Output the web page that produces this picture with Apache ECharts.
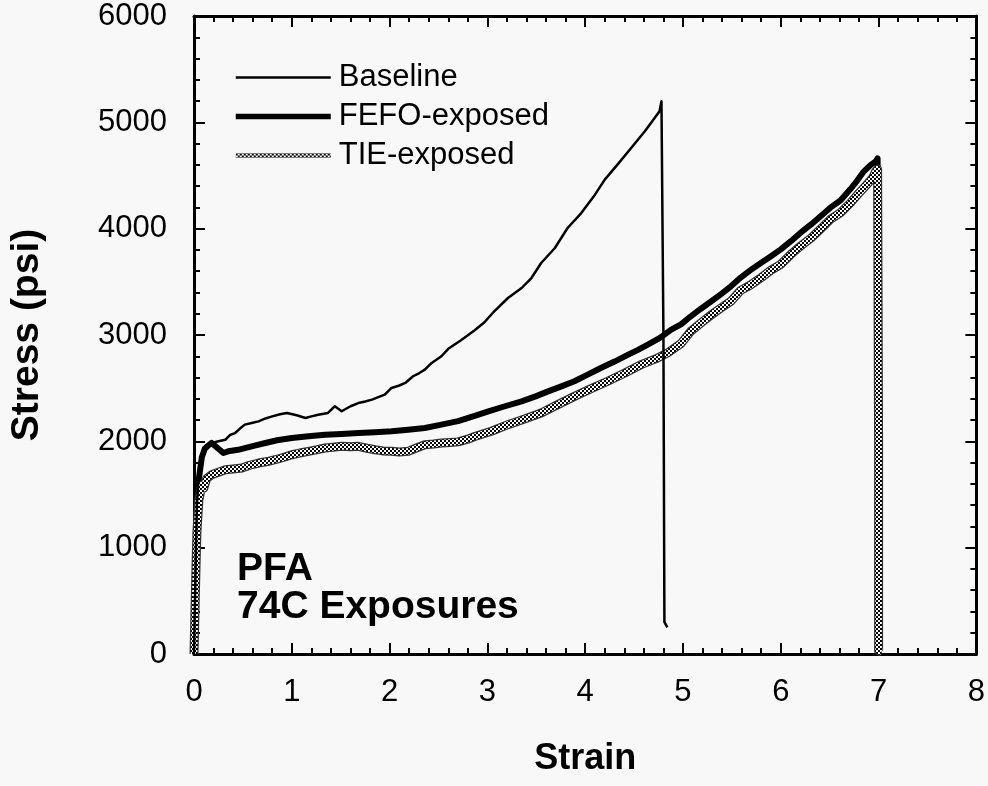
<!DOCTYPE html>
<html>
<head>
<meta charset="utf-8">
<script src="https://cdn.jsdelivr.net/npm/echarts@6/dist/echarts.min.js"></script>
<style>
html,body{margin:0;padding:0;background:#f8f8f8;}
#chart{width:988px;height:786px;}
</style>
</head>
<body>
<div id="chart"></div>
<script>
// ---- data ----
const seriesNames = ['Baseline', 'FEFO-exposed', 'TIE-exposed'];

const baselineStrain = [0,0.01,0.02,0.03,0.05,0.08,0.12,0.18,0.25,0.32,0.37,0.42,0.47,0.52,0.6,0.66,0.73,0.8,0.88,0.95,1.05,1.14,1.2,1.27,1.37,1.44,1.51,1.6,1.68,1.75,1.82,1.95,2.02,2.1,2.16,2.24,2.3,2.36,2.43,2.53,2.6,2.73,2.87,2.97,3.07,3.21,3.35,3.45,3.55,3.69,3.82,3.96,4.1,4.2,4.33,4.47,4.61,4.71,4.76,4.78,4.8,4.81,4.84];
const baselineStress = [0,500,1000,1400,1700,1880,1960,1985,2000,2015,2060,2078,2120,2157,2175,2188,2215,2235,2255,2267,2245,2220,2235,2250,2267,2330,2283,2330,2360,2375,2392,2439,2502,2525,2549,2612,2640,2674,2737,2800,2870,2950,3045,3120,3223,3348,3442,3536,3677,3818,4006,4147,4320,4461,4602,4759,4916,5041,5104,5198,3000,300,250];

const fefoStrain = [0,0.01,0.02,0.03,0.05,0.08,0.11,0.15,0.18,0.25,0.3,0.35,0.45,0.52,0.62,0.73,0.85,1.0,1.17,1.34,1.51,1.68,1.85,2.02,2.19,2.36,2.53,2.7,2.87,3.01,3.18,3.35,3.5,3.62,3.75,3.89,4.02,4.16,4.3,4.44,4.54,4.64,4.76,4.88,4.98,5.08,5.18,5.29,5.39,5.49,5.59,5.69,5.8,5.9,6.0,6.1,6.2,6.31,6.41,6.51,6.61,6.71,6.78,6.85,6.92,6.97,6.99,7.0,7.0];
const fefoStress = [0,400,900,1300,1650,1850,1930,1965,1985,1930,1890,1906,1920,1937,1960,1984,2010,2031,2048,2062,2070,2078,2085,2094,2108,2125,2157,2190,2240,2282,2330,2376,2425,2470,2515,2565,2625,2690,2750,2815,2860,2909,2970,3050,3100,3176,3245,3317,3385,3458,3540,3610,3680,3740,3805,3880,3960,4040,4120,4200,4265,4370,4450,4539,4600,4633,4660,2000,0];

const tieStrain = [0,0.01,0.02,0.03,0.05,0.08,0.1,0.13,0.18,0.25,0.32,0.4,0.49,0.57,0.66,0.75,0.83,0.92,1.0,1.08,1.17,1.25,1.34,1.42,1.51,1.6,1.68,1.77,1.85,1.93,2.02,2.1,2.19,2.28,2.36,2.45,2.53,2.62,2.7,2.8,2.87,3.04,3.21,3.38,3.55,3.72,3.89,4.06,4.23,4.4,4.57,4.72,4.84,4.98,5.08,5.18,5.29,5.39,5.49,5.59,5.69,5.8,5.9,6.0,6.1,6.2,6.31,6.41,6.51,6.61,6.71,6.8,6.88,6.94,6.97,6.99,7.0,7.0,7.03];
const tieStress = [0,400,800,1150,1450,1590,1560,1650,1686,1710,1733,1740,1749,1775,1796,1810,1827,1850,1874,1890,1906,1920,1937,1945,1953,1950,1953,1935,1921,1910,1906,1900,1906,1940,1968,1975,1984,1990,1995,2020,2045,2095,2157,2210,2267,2345,2423,2495,2565,2640,2721,2775,2830,2920,3035,3110,3191,3255,3317,3420,3470,3540,3610,3665,3755,3835,3912,4000,4090,4150,4240,4335,4414,4480,4539,4560,2000,30,20];

const xTickLabels = ['0','1','2','3','4','5','6','7','8'];
const yTickLabels = ['0','1000','2000','3000','4000','5000','6000'];

function zip(a, b) { return a.map((v, i) => [v, b[i]]); }

// checkered hatch used for the TIE curve
const hatch = document.createElement('canvas');
hatch.width = 4; hatch.height = 4;
(function () {
  const c = hatch.getContext('2d');
  c.fillStyle = '#ffffff'; c.fillRect(0, 0, 4, 4);
  c.fillStyle = '#000000';
  c.fillRect(0, 0, 2, 2); c.fillRect(2, 2, 2, 2);
})();
const tieColor = { image: hatch, repeat: 'repeat' };

const FONT = "'Liberation Sans', Arial, Helvetica, sans-serif";

const chart = echarts.init(document.getElementById('chart'), null, { renderer: 'canvas' });

const axisCommon = {
  type: 'value',
  axisLine: { show: true, onZero: false, lineStyle: { color: '#000', width: 3 } },
  axisTick: { show: true, inside: true, length: 11, lineStyle: { color: '#000', width: 2 } },
  minorTick: { show: true, splitNumber: 5, length: 6, lineStyle: { color: '#000', width: 2 } },
  splitLine: { show: false },
  minorSplitLine: { show: false }
};

chart.setOption({
  backgroundColor: '#f8f8f8',
  animation: false,
  grid: { left: 192, right: 10, top: 16, bottom: 132, containLabel: false },
  title: {
    text: 'PFA\n74C Exposures',
    left: 237, top: 550, padding: 0,
    textStyle: { fontFamily: FONT, fontSize: 39, fontWeight: 'bold', color: '#000', lineHeight: 38 }
  },
  legend: {
    orient: 'vertical',
    left: 233, top: 58, padding: 0,
    itemWidth: 95, itemHeight: 12, itemGap: 0,
    selectedMode: false,
    itemStyle: { opacity: 0 },
    textStyle: { fontFamily: FONT, fontSize: 31, color: '#000', lineHeight: 39, padding: [0, 0, 0, 3] },
    data: [
      { name: seriesNames[0], lineStyle: { width: 2.5 } },
      { name: seriesNames[1], lineStyle: { width: 5.5 } },
      { name: seriesNames[2], lineStyle: { width: 5 } }
    ]
  },
  xAxis: [
    Object.assign({}, axisCommon, {
      position: 'bottom', min: 0, max: 8, interval: 1,
      name: 'Strain', nameLocation: 'middle', nameGap: 87,
      nameTextStyle: { fontFamily: FONT, fontSize: 36, fontWeight: 'bold', color: '#000' },
      axisLabel: { margin: 23, fontFamily: FONT, fontSize: 31, color: '#000',
        formatter: (v) => xTickLabels[Math.round(v)] }
    }),
    Object.assign({}, axisCommon, {
      position: 'top', min: 0, max: 8, interval: 1,
      axisLabel: { show: false }
    })
  ],
  yAxis: [
    Object.assign({}, axisCommon, {
      position: 'left', min: 0, max: 6000, interval: 1000,
      name: 'Stress (psi)', nameLocation: 'middle', nameGap: 147, nameRotate: 90,
      nameTextStyle: { fontFamily: FONT, fontSize: 39, fontWeight: 'bold', color: '#000' },
      axisLabel: { margin: 27, fontFamily: FONT, fontSize: 31, color: '#000',
        formatter: (v) => yTickLabels[Math.round(v / 1000)] }
    }),
    Object.assign({}, axisCommon, {
      position: 'right', min: 0, max: 6000, interval: 1000,
      axisLabel: { show: false }
    })
  ],
  series: [
    {
      name: seriesNames[1], type: 'line', xAxisIndex: 0, yAxisIndex: 0,
      data: zip(fefoStrain, fefoStress),
      showSymbol: false, symbol: 'none', z: 2,
      lineStyle: { color: '#000', width: 6, join: 'round' },
      itemStyle: { color: '#000' }
    },
    {
      // dark rim of the hatched TIE band (same data, not in legend)
      name: 'TIE-rim', type: 'line', xAxisIndex: 0, yAxisIndex: 0,
      data: zip(tieStrain, tieStress),
      showSymbol: false, symbol: 'none', z: 3, silent: true,
      lineStyle: { color: '#333', width: 9, join: 'round' },
      itemStyle: { color: '#333' }
    },
    {
      name: seriesNames[2], type: 'line', xAxisIndex: 0, yAxisIndex: 0,
      data: zip(tieStrain, tieStress),
      showSymbol: false, symbol: 'none', z: 3,
      lineStyle: { color: tieColor, width: 6.5, join: 'round' },
      itemStyle: { color: tieColor }
    },
    {
      name: seriesNames[0], type: 'line', xAxisIndex: 0, yAxisIndex: 0,
      data: zip(baselineStrain, baselineStress),
      showSymbol: false, symbol: 'none', z: 4,
      lineStyle: { color: '#000', width: 2.5, join: 'round' },
      itemStyle: { color: '#000' }
    }
  ]
});
</script>
</body>
</html>
